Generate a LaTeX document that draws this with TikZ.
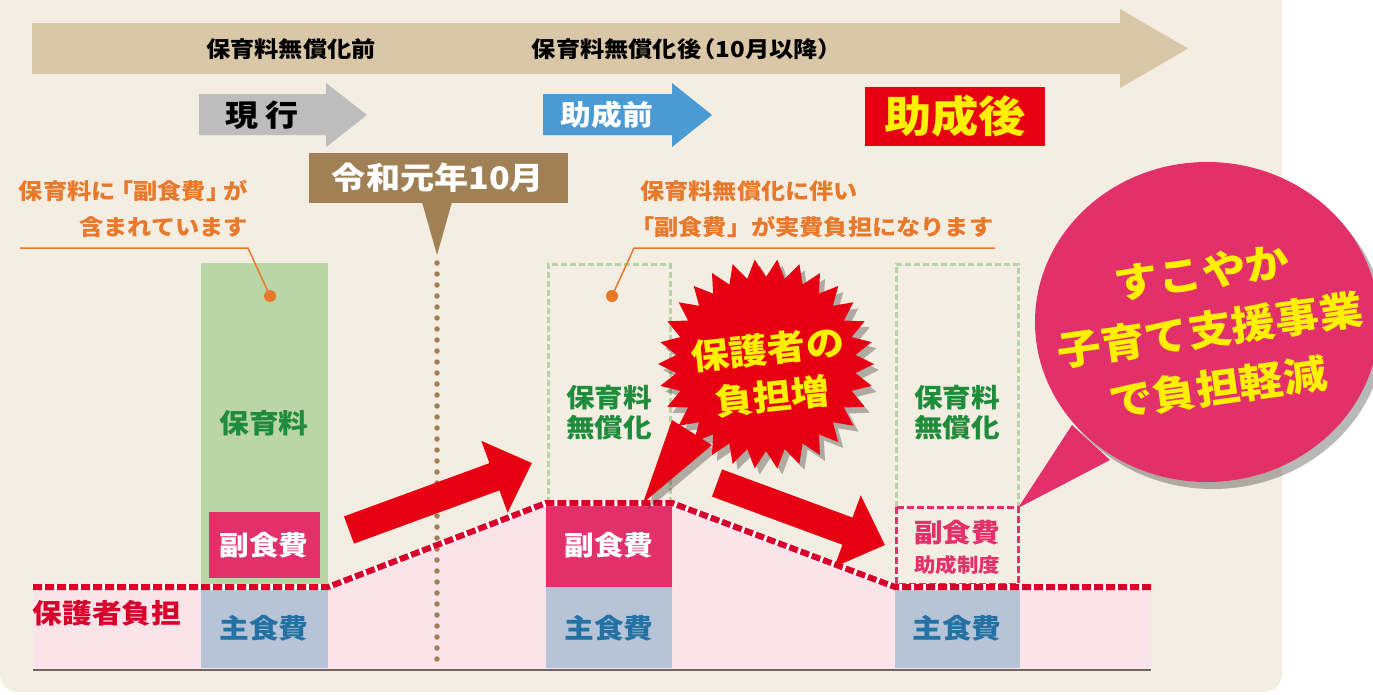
\documentclass[tikz,border=0pt]{standalone}
\usepackage{fontspec}
\setmainfont{Noto Sans CJK JP}[FakeStretch=1.1]
\usetikzlibrary{arrows.meta}
\definecolor{bg}{HTML}{F4EDE1}
\definecolor{band}{HTML}{D9C7A8}
\definecolor{grayarr}{HTML}{BDBDBD}
\definecolor{bluearr}{HTML}{4A9BD4}
\definecolor{mainred}{HTML}{E60012}
\definecolor{yel}{HTML}{FFF000}
\definecolor{brownc}{HTML}{A08156}
\definecolor{orangec}{HTML}{E8782A}
\definecolor{greenbar}{HTML}{BBD5A6}
\definecolor{greentext}{HTML}{1E8C3A}
\definecolor{greendash}{HTML}{B5D3A6}
\definecolor{pinkdark}{HTML}{E2306A}
\definecolor{pinklight}{HTML}{FBE3EA}
\definecolor{bluebox}{HTML}{B7C3D7}
\definecolor{bluetext}{HTML}{2472A4}
\definecolor{reddash}{HTML}{D8002B}
\definecolor{basec}{HTML}{6E6566}
\tikzset{
  fs/.style={font=\fontsize{#1}{#1}\selectfont\bfseries},
  lbl/.style={inner sep=0pt},
  shadowc/.style={fill=black, opacity=0.28},
}
\begin{document}
\begin{tikzpicture}[x=1pt,y=-1pt]
\useasboundingbox (0,0) rectangle (1373,694);
% background
\fill[bg, rounded corners=18pt] (0,-30) rectangle (1282,692);
% top timeline arrow
\fill[band] (32,23) -- (1120,23) -- (1120,9) -- (1188,48.5) -- (1120,88) -- (1120,74) -- (32,74) -- cycle;
\node[lbl, fs=22] (before) at (291,49) {保育料無償化前};
\node[lbl, fs=22] (after) at (682,49) {保育料無償化後\kern-.45em（10月以降）\kern-.45em};
% gray arrow
\fill[grayarr] (199,94) -- (326,94) -- (326,83) -- (367,115) -- (326,147) -- (326,135) -- (199,135) -- cycle;
\node[lbl, fs=30] (genko) at (262,115) {現 行};
% blue arrow
\fill[bluearr] (543,94) -- (672,94) -- (672,83) -- (712,115) -- (672,147) -- (672,135) -- (543,135) -- cycle;
\node[lbl, fs=28, text=white] (josei1) at (607,115) {助成前};
% red box
\node[lbl, fill=mainred, minimum width=180pt, minimum height=59pt] (josei2box) at (955,116.5) {};
\node[lbl, fs=43, text=yel] (josei2) at (955,116) {助成後};
% brown callout
\fill[brownc] (309,153) rectangle (568,203);
\fill[brownc] (422,202) -- (437,255) -- (452,202) -- cycle;
\node[lbl, fs=31, text=white] (reiwa) at (438,178) {令和元年10月};
% pink area
\fill[pinklight] (33,587) -- (328,587) -- (546,503) -- (672,503) -- (895,587) -- (1151,587) -- (1151,670) -- (33,670) -- cycle;
% left column
\fill[greenbar] (201,263) rectangle (328,587);
\fill[pinkdark] (209,512) rectangle (320,578);
\fill[bluebox] (201,587) rectangle (328,668);
% middle column
\fill[pinkdark] (546,503) rectangle (672,587);
\fill[bluebox] (546,587) rectangle (672,668);
\draw[greendash, line width=3pt, dash pattern=on 6pt off 3pt] (548,503) -- (548,264) -- (670,264) -- (670,503);
% right column
\fill[bluebox] (895,587) rectangle (1020,668);
\draw[greendash, line width=3pt, dash pattern=on 6pt off 3pt] (896,507) -- (896,264) -- (1018,264) -- (1018,507);
\draw[pinkdark, line width=3pt, dash pattern=on 7pt off 3pt] (896,507) rectangle (1018,584);
% orange annotations
\node[lbl, fs=22, text=orangec, anchor=east] (noteL1) at (248,191) {保育料に\kern-.3em「副食費」\kern-.3emが};
\node[lbl, fs=22, text=orangec, anchor=east] (noteL2) at (248,227) {含まれています};
\node[lbl, fs=22, text=orangec, anchor=west] (noteM1) at (640,191) {保育料無償化に伴い};
\node[lbl, fs=22, text=orangec, anchor=west] (noteM2) at (630,227) {「副食費」が実費負担になります};
\coordinate (dotL) at (270,296);
\coordinate (dotM) at (612,296);
\draw[orangec, line width=1.5pt] (20,248) -- (248,248) -- (dotL);
\draw[orangec, line width=1.5pt] (995,248) -- (634,248) -- (dotM);
\fill[orangec] (dotL) circle (6pt);
\fill[orangec] (dotM) circle (6pt);
% baseline
\draw[basec, line width=2.5pt] (33,670) -- (1151,670);
% dotted vertical line
\coordinate (vtop) at (437,263);
\coordinate (vbot) at (437,663);
\draw[brownc, line width=5.5pt, line cap=round, dash pattern=on 0pt off 11pt] (vtop) -- (vbot);
% dashed burden line
\draw[white, line width=6pt] (33,587) -- (328,587) -- (546,503) -- (672,503) -- (895,587) -- (1151,587);
\draw[reddash, line width=6pt, dash pattern=on 9pt off 3pt] (33,587) -- (328,587) -- (546,503) -- (672,503) -- (895,587) -- (1151,587);
% red arrows
\coordinate (a1s) at (349,530);
\coordinate (a1e) at (532,463);
\coordinate (a2s) at (717,483);
\coordinate (a2e) at (885,545);
\draw[mainred, line width=29pt, -{Triangle[length=40pt,width=74pt]}] (a1s) -- (a1e);
\draw[mainred, line width=29pt, -{Triangle[length=40pt,width=74pt]}] (a2s) -- (a2e);
% column texts
\node[lbl, fs=27, text=greentext] (hoiku) at (264,423) {保育料};
\node[lbl, fs=27, text=white] (fuku1) at (264,545) {副食費};
\node[lbl, fs=27, text=bluetext] (shu1) at (264,628) {主食費};
\node[lbl, fs=27, text=reddash] (hogo) at (107,613) {保護者負担};
\node[lbl, align=center, font=\fontsize{26}{30}\selectfont\bfseries, text=greentext] (mushou1) at (609,413) {保育料\\無償化};
\node[lbl, fs=27, text=white] (fuku2) at (609,545) {副食費};
\node[lbl, fs=27, text=bluetext] (shu2) at (609,628) {主食費};
\node[lbl, align=center, font=\fontsize{26}{30}\selectfont\bfseries, text=greentext] (mushou2) at (957,413) {保育料\\無償化};
\node[lbl, fs=26, text=pinkdark] (fuku3) at (957,533) {副食費};
\node[lbl, fs=19.5, text=pinkdark] (josei3) at (957,565) {助成制度};
\node[lbl, fs=27, text=bluetext] (shu3) at (957,628) {主食費};
% starburst
\begin{scope}[shift={(5,6)}]
\fill[shadowc] plot[domain=0:360, samples=61] ({766+(108-18*mod(round(\x/6),2))*cos(\x)}, {364+(105-18*mod(round(\x/6),2))*sin(\x)}) -- cycle;
\fill[shadowc] (672,420) -- (643,503) -- (712,445) -- cycle;
\end{scope}
\fill[mainred] (672,420) -- (643,503) -- (712,445) -- cycle;
\fill[mainred] plot[domain=0:360, samples=61] ({766+(108-18*mod(round(\x/6),2))*cos(\x)}, {364+(105-18*mod(round(\x/6),2))*sin(\x)}) -- cycle;
\node[lbl, rotate=6, align=center, font=\fontsize{35}{47}\selectfont\bfseries, text=yel] (burst) at (770,373) {保護者の\\負担増};
% speech bubble
\begin{scope}[shift={(6,7)}]
\fill[shadowc] (1207,322) ellipse [x radius=172, y radius=160];
\end{scope}
\fill[pinkdark] (1072,425) -- (1018,508) -- (1110,460) -- cycle;
\fill[pinkdark] (1207,322) ellipse [x radius=172, y radius=160];
\node[lbl, rotate=8, align=center, font=\fontsize{40}{58}\selectfont\bfseries, text=yel] (bubble) at (1210,330) {すこやか\\子育て支援事業\\で負担軽減};
\end{tikzpicture}
\end{document}
